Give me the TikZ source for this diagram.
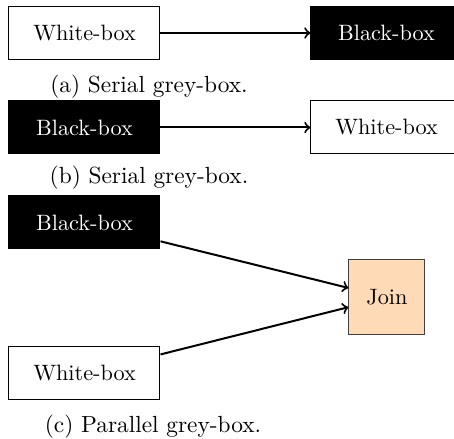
\documentclass[tikz,border=0pt]{standalone}
\definecolor{peach}{RGB}{255,218,183}
\tikzset{
  whitebox/.style={draw=black, fill=white, line width=0.45pt, minimum width=151*0.45pt, minimum height=53*0.45pt, inner sep=0pt},
  blackbox/.style={draw=black, fill=black, text=white, line width=0.45pt, minimum width=151*0.45pt, minimum height=53*0.45pt, inner sep=0pt},
  joinbox/.style={draw=black!75, fill=peach, line width=0.45pt, minimum width=76*0.45pt, minimum height=75*0.45pt, inner sep=0pt},
  conn/.style={->, line width=0.9pt},
  capt/.style={inner sep=0pt, scale=1.05}
}
\begin{document}
\begin{tikzpicture}[x=0.45pt, y=-0.45pt]
\clip (0,0) rectangle (454,439);
% (a)
\node[whitebox] (aw) at (84.5,33) {White-box};
\node[blackbox] (ab) at (386.5,33) {Black-box};
\draw[conn] (aw) -- (ab);
\node[capt] (ca) at (149,87) {(a) Serial grey-box.};
% (b)
\node[blackbox] (bb) at (84.5,127.5) {Black-box};
\node[whitebox] (bw) at (386.5,127.5) {White-box};
\draw[conn] (bb) -- (bw);
\node[capt] (cb) at (149,178) {(b) Serial grey-box.};
% (c)
\node[blackbox] (cbb) at (84.5,222.5) {Black-box};
\node[whitebox] (cw) at (84.5,373.5) {White-box};
\node[joinbox] (j) at (387,297.5) {Join};
\draw[conn] (cbb) -- (j);
\draw[conn] (cw) -- (j);
\node[capt] (cc) at (153,427) {(c) Parallel grey-box.};
\end{tikzpicture}
\end{document}
